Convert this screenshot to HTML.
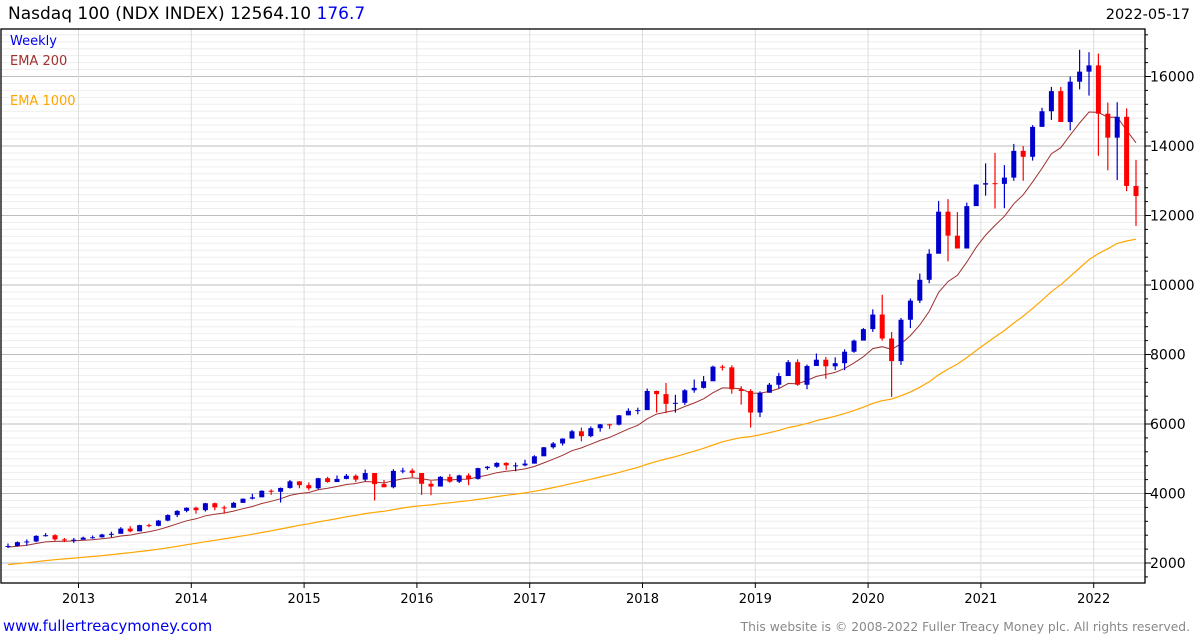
<!DOCTYPE html>
<html><head><meta charset="utf-8"><style>
body{margin:0;background:#fff;width:1195px;height:640px;overflow:hidden;font-family:"DejaVu Sans","Liberation Sans",sans-serif}
svg{position:absolute;left:0;top:0;font-family:"DejaVu Sans","Liberation Sans",sans-serif}
</style></head><body>
<svg width="1195" height="640" xmlns="http://www.w3.org/2000/svg">
<text x="8" y="19" font-size="17" fill="#000">Nasdaq 100 (NDX INDEX) 12564.10 <tspan fill="#0000ee">176.7</tspan></text>
<text x="1190" y="19" font-size="14.5" text-anchor="end" fill="#000">2022-05-17</text>
<g id="grid"></g>
<g id="ema"></g>
<g id="candles"></g>
<rect x="1" y="29" width="1144" height="554" fill="none" stroke="#000" stroke-width="1.3"/>
<g id="axes"></g>
<text x="10" y="45" font-size="13" fill="#0000ee">Weekly</text>
<text x="10" y="65" font-size="13" fill="#a03030">EMA 200</text>
<text x="10" y="105" font-size="13" fill="#ffa500">EMA 1000</text>
<text x="3" y="631" font-size="14.8" fill="#0000ee">www.fullertreacymoney.com</text>
<text x="1190" y="631" font-size="12.3" text-anchor="end" fill="#888">This website is © 2008-2022 Fuller Treacy Money plc. All rights reserved.</text>
</svg>
<script>
const startYear = 2012, startMonth = 4; // May 2012
const closes = [2490,2600,2620,2780,2800,2680,2660,2670,
2730,2740,2820,2840,2990,2910,3090,3070,3220,3380,3500,3590,
3520,3720,3600,3590,3730,3850,3890,4080,4050,4160,4350,4240,
4150,4440,4330,4420,4510,4400,4590,4270,4180,4650,4660,4590,
4280,4200,4480,4340,4520,4420,4730,4770,4880,4810,4810,4860,
5070,5330,5440,5580,5790,5650,5880,5990,5980,6250,6380,6400,
6950,6860,6580,6610,6970,7040,7230,7650,7630,7000,6950,6330,
6900,7130,7380,7780,7130,7670,7850,7660,7750,8080,8400,8730,
9150,8460,7810,9000,9550,10150,10900,12110,11420,11050,12270,12890,
12930,12910,13090,13860,13690,14550,15000,15580,14690,15850,16140,16320,
14930,14240,14840,12850,12560];
const highs = [2560,2620,2680,2800,2860,2830,2720,2720,
2760,2790,2840,2900,3030,3060,3100,3130,3240,3400,3520,3600,
3620,3730,3740,3650,3760,3860,3990,4090,4120,4170,4390,4350,
4320,4450,4480,4520,4560,4550,4690,4560,4390,4700,4740,4720,
4580,4360,4500,4560,4540,4580,4740,4790,4900,4900,4890,4970,
5100,5340,5480,5590,5830,5900,5930,6000,6010,6260,6450,6470,
7020,6960,7180,6840,7000,7280,7380,7680,7700,7690,7090,7000,
6940,7180,7470,7840,7860,7710,8030,7930,7920,8150,8430,8760,
9300,9720,8650,9050,9610,10330,11030,12420,12470,12100,12370,12900,
13500,13800,13450,14060,14000,14600,15100,15700,15700,16000,16770,16700,
16660,15250,15260,15080,13600];
const lows = [2430,2470,2500,2600,2760,2640,2600,2580,
2690,2700,2730,2740,2850,2880,2950,3030,3060,3200,3320,3460,
3420,3480,3520,3420,3600,3740,3830,3890,3960,3740,4140,4150,
4090,4120,4310,4330,4410,4330,4360,3800,4180,4150,4580,4470,
3960,3950,4200,4310,4300,4240,4400,4680,4740,4680,4640,4780,
4860,5080,5290,5380,5590,5500,5620,5780,5860,5960,6250,6280,
6420,6330,6310,6330,6550,6900,7020,7250,7540,6870,6560,5900,
6200,6900,7030,7390,7100,7000,7680,7300,7550,7550,8050,8450,
8650,8400,6780,7700,8760,9480,10050,10930,10680,11050,11100,12280,
12570,12200,12210,13000,13000,13580,14600,14750,14690,14450,15630,15450,
13720,13300,13020,12700,11700];
const ema200Seed = 2450, ema1000Seed = 1930;
const ema200Months = 9.5, ema1000Months = 47.6;

const NS="http://www.w3.org/2000/svg";
const X0=78.5, YW=112.8, PL=1, PR=1145, PT=29, PB=583;
const xOf=t=>X0+(t-2013)*YW;
const yOf=v=>563-(v-2000)*0.03475;
function mk(tag,attrs,parent){const e=document.createElementNS(NS,tag);for(const k in attrs)e.setAttribute(k,attrs[k]);parent.appendChild(e);return e;}
const grid=document.getElementById('grid'), axes=document.getElementById('axes');
for(let v=1400;v<=17200;v+=200){const y=yOf(v);if(y<PT||y>PB)continue;
 const major=v%2000===0;
 const l=mk('line',{x1:PL,x2:PR,y1:y,y2:y,stroke:major?'#bdbdbd':'#eeeeee','stroke-width':1},grid);
 
 
 if(v%400===0){const tk=mk('line',{x1:PR,x2:PR+(major?6:3),y1:y,y2:y,stroke:'#000'},axes);
  }
 if(major){const t=mk('text',{x:1150,y:y+5,'font-size':14,fill:'#000'},axes);t.textContent=v;
  }
}
const years=[2013,2014,2015,2016,2017,2018,2019,2020,2021,2022];
for(const yr of years){const x=xOf(yr);
 const g=mk('line',{x1:x,x2:x,y1:PT,y2:PB,stroke:'#dddddd'},grid);
 
 const tk=mk('line',{x1:x,x2:x,y1:PB,y2:PB+5,stroke:'#000'},axes);
 
 const t=mk('text',{x:x,y:603,'font-size':13,'text-anchor':'middle',fill:'#000'},axes);t.textContent=yr;
 }
const tm=(i)=>startYear+(startMonth+i+0.5)/12;
const a2=2/(ema200Months+1), a10=2/(ema1000Months+1);
let e2=ema200Seed,e10=ema1000Seed,p2=[],p10=[];
closes.forEach((c,i)=>{e2=e2+a2*(c-e2);e10=e10+a10*(c-e10);p2.push(xOf(tm(i)).toFixed(1)+','+yOf(e2).toFixed(1));p10.push(xOf(tm(i)).toFixed(1)+','+yOf(e10).toFixed(1));});
const emaG=document.getElementById('ema');
const l1=mk('polyline',{points:p10.join(' '),fill:'none',stroke:'#ffa500','stroke-width':1.2},emaG);

const l2=mk('polyline',{points:p2.join(' '),fill:'none',stroke:'#a03030','stroke-width':1},emaG);

const cg=document.getElementById('candles');
closes.forEach((c,i)=>{const o=i?closes[i-1]:c*0.99;const x=xOf(tm(i));const col=c>=o?'#0000cc':'#ff0000';
 const w=mk('line',{x1:x,x2:x,y1:yOf(highs[i]),y2:yOf(lows[i]),stroke:col,'stroke-width':1.2},cg);
 
 const yt=yOf(Math.max(o,c)),yb=yOf(Math.min(o,c));
 const b=mk('rect',{x:x-2.5,y:yt,width:5,height:Math.max(1,yb-yt),fill:col},cg);
 });
</script>
</body></html>
